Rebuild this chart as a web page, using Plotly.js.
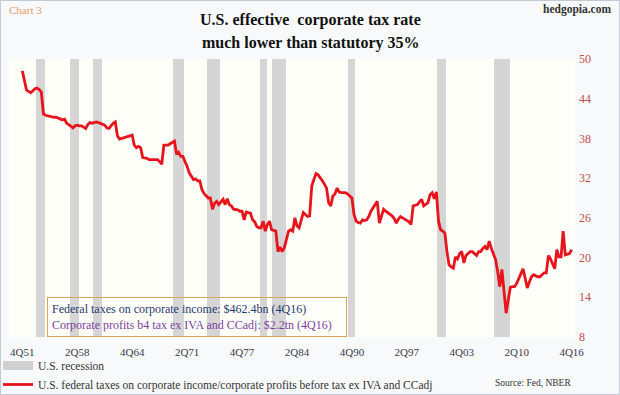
<!DOCTYPE html>
<html>
<head>
<meta charset="utf-8">
<script src="https://cdn.plot.ly/plotly-3.0.1.min.js"></script>
<style>
  html, body { margin: 0; padding: 0; background: #ffffff; }
  #chart { width: 620px; height: 395px; }
</style>
</head>
<body>
<div id="chart"></div>
<script>
// ---------------- DATA ----------------
// first quarter of the series: 4Q51, quarterly through 4Q16
const firstYear = 1951;
const firstQuarter = 4;

// U.S. federal taxes on corporate income / corporate profits before tax ex IVA and CCadj (%)
const taxRate = [
  48.2,                      // 1951 Q4
  46.8, 45.3, 45.1, 44.9,    // 1952
  45.2, 45.5, 45.6, 45.4,    // 1953
  45.0, 41.7, 41.5, 41.4,    // 1954
  41.4, 41.3, 41.2, 41.2,    // 1955
  41.1, 40.9, 40.8, 40.9,    // 1956
  40.3, 40.1, 39.8, 39.6,    // 1957
  39.9, 40.0, 39.9, 39.9,    // 1958
  39.7, 39.5, 40.1, 40.4,    // 1959
  40.3, 40.4, 40.5, 40.4,    // 1960
  40.3, 40.1, 40.0, 39.6,    // 1961
  39.5, 39.9, 40.3, 40.5,    // 1962
  38.4, 37.9, 38.0, 38.1,    // 1963
  38.3, 38.4, 38.5, 38.5,    // 1964
  37.0, 36.6, 36.8, 36.6,    // 1965
  35.1, 35.1, 35.0, 34.8,    // 1966
  34.8, 34.9, 34.9, 34.8,    // 1967
  34.5, 34.1, 37.0, 37.0,    // 1968
  37.0, 37.2, 37.4, 37.6,    // 1969
  35.6, 35.9, 35.3, 35.3,    // 1970
  34.5, 33.8, 32.8, 32.3,    // 1971
  31.8, 31.9, 31.6, 31.6,    // 1972
  30.3, 29.7, 29.3, 29.0,    // 1973
  29.0, 27.3, 28.2, 28.5,    // 1974
  28.0, 28.4, 28.8, 28.0,    // 1975
  28.9, 28.0, 27.8, 27.3,    // 1976
  27.3, 27.2, 27.0, 27.0,    // 1977
  25.7, 26.9, 26.8, 26.7,    // 1978
  25.7, 25.4, 24.7, 24.5,    // 1979
  24.5, 25.5, 24.0, 25.0,    // 1980
  25.5, 24.2, 24.1, 24.0,    // 1981
  20.9, 21.6, 20.9, 21.5,    // 1982
  22.7, 24.0, 24.2, 24.0,    // 1983
  26.0, 24.8, 24.5, 25.7,    // 1984
  26.8, 26.5, 26.2, 26.3,    // 1985
  30.8, 31.8, 32.7, 32.5,    // 1986
  32.1, 31.6, 31.1, 30.5,    // 1987
  28.3, 27.8, 29.3, 29.6,    // 1988
  30.5, 29.9, 29.8, 29.8,    // 1989
  29.8, 29.6, 29.3, 29.0,    // 1990
  26.5, 25.5, 25.3, 25.2,    // 1991
  25.7, 25.6, 25.7, 26.2,    // 1992
  27.0, 27.5, 27.8, 28.5,    // 1993
  25.2, 26.2, 27.3, 27.0,    // 1994
  26.8, 26.5, 26.3, 25.9,    // 1995
  25.2, 25.8, 26.2, 26.0,    // 1996
  25.8, 25.7, 25.4, 25.0,    // 1997
  27.8, 27.9, 28.0, 28.4,    // 1998
  28.8, 27.8, 28.0, 28.3,    // 1999
  29.5, 29.8, 28.9, 29.9,    // 2000
  25.5, 24.2, 24.0, 23.7,    // 2001
  20.9, 18.9, 18.6, 18.4,    // 2002
  20.1, 19.8, 20.6, 20.9,    // 2003
  19.2, 20.3, 20.6, 20.9,    // 2004
  20.9, 20.6, 20.3, 20.9,    // 2005
  20.9, 21.4, 21.7, 21.2,    // 2006
  22.5, 21.4, 20.5, 19.7,    // 2007
  17.9, 15.6, 18.2, 15.1,    // 2008
  11.6, 13.6, 15.5, 15.6,    // 2009
  15.6, 16.1, 16.9, 17.5,    // 2010
  18.3, 16.9, 15.4, 16.3,    // 2011
  17.1, 17.4, 17.2, 17.1,    // 2012
  17.1, 17.4, 17.7, 17.7,    // 2013
  20.3, 19.8, 19.0, 18.3,    // 2014
  21.2, 20.1, 20.1, 24.0,    // 2015
  20.4, 20.5, 20.6, 21.2     // 2016
];

// NBER recessions (first and last quarter)
const recessionStart = ['3Q53', '3Q57', '2Q60', '4Q69', '4Q73', '1Q80', '3Q81', '3Q90', '1Q01', '4Q07'];
const recessionEnd   = ['2Q54', '2Q58', '1Q61', '4Q70', '1Q75', '3Q80', '4Q82', '1Q91', '4Q01', '2Q09'];

// x-axis tick labels
const tickLabels = ['4Q51', '2Q58', '4Q64', '2Q71', '4Q77', '2Q84', '4Q90', '2Q97', '4Q03', '2Q10', '4Q16'];

// y-axis
const yMin = 8, yMax = 50, yStep = 6;

// text
const chartTag = 'Chart 3';
const siteName = 'hedgopia.com';
const titleLines = ['U.S. effective  corporate tax rate', 'much lower than statutory 35%'];
const boxLine1 = 'Federal taxes on corporate income: $462.4bn (4Q16)';
const boxLine2 = 'Corporate profits b4 tax ex IVA and CCadj: $2.2tn (4Q16)';
const legendRecession = 'U.S. recession';
const legendSeries = 'U.S. federal taxes on corporate income/corporate profits before tax ex IVA and CCadj';
const sourceText = 'Source: Fed, NBER';

// ---------------- BUILD ----------------
const quarterLabels = taxRate.map((_, i) => {
  const k = (firstQuarter - 1) + i;
  const yr = firstYear + Math.floor(k / 4);
  const q = (k % 4) + 1;
  return q + 'Q' + String(yr % 100).padStart(2, '0');
});
const idxOf = lab => quarterLabels.indexOf(lab);
const xIdx = quarterLabels.map((_, i) => i);

const recX = [], recY = [];
recessionStart.forEach((s, j) => {
  const a = idxOf(s), b = idxOf(recessionEnd[j]);
  for (let i = a; i <= b; i++) { recX.push(i); recY.push(yMax); }
});

const W = 620, H = 395, L = 9, R = 45, T = 59, B = 58;
const px = x => (x - L) / (W - L - R);
const py = y => (H - B - y) / (H - T - B);

const serif = 'Liberation Serif, Times New Roman, serif';

const traces = [
  {
    type: 'bar', x: recX, y: recY, width: 1.25,
    marker: { color: '#d5d5d5', line: { width: 0 } },
    showlegend: false, hoverinfo: 'skip'
  },
  {
    type: 'scatter', mode: 'lines', x: [null], y: [null],
    name: legendRecession, line: { color: '#d0d0d0', width: 9 }
  },
  {
    type: 'scatter', mode: 'lines', x: xIdx, y: taxRate,
    name: legendSeries, line: { color: '#e8141c', width: 2.8 }
  }
];

const layout = {
  width: W, height: H,
  margin: { l: L, r: R, t: T, b: B, autoexpand: false },
  paper_bgcolor: '#f8f9fa',
  plot_bgcolor: '#fffffa',
  font: { family: serif, color: '#404040' },
  showlegend: true,
  legend: {
    xref: 'paper', yref: 'paper', x: px(-2), y: py(351),
    xanchor: 'left', yanchor: 'top', orientation: 'v',
    bgcolor: 'rgba(0,0,0,0)', font: { family: serif, size: 11.5, color: '#333333' },
    tracegroupgap: 0, itemwidth: 30
  },
  bargap: 0,
  xaxis: {
    range: [-6.3, 261.6],
    tickmode: 'array', tickvals: tickLabels.map(idxOf), ticktext: tickLabels,
    showgrid: false, zeroline: false, showline: false, ticks: '',
    tickfont: { family: serif, size: 11, color: '#3a3a4a' },
    ticklabelstandoff: 7,
    tickangle: 0, fixedrange: true
  },
  yaxis: {
    side: 'right', range: [yMin, yMax], tick0: yMin, dtick: yStep,
    showgrid: false, zeroline: false, showline: false, ticks: '',
    tickfont: { family: serif, size: 12, color: '#c0504d' },
    ticklabelstandoff: 3,
    fixedrange: true
  },
  annotations: [
    { text: '<b>' + titleLines[0] + '</b>', xref: 'paper', yref: 'paper', x: px(310), y: py(20), xanchor: 'center', yanchor: 'middle',
      showarrow: false, font: { family: serif, size: 16, color: '#111111' } },
    { text: '<b>' + titleLines[1] + '</b>', xref: 'paper', yref: 'paper', x: px(310), y: py(43), xanchor: 'center', yanchor: 'middle',
      showarrow: false, font: { family: serif, size: 16, color: '#111111' } },
    { text: chartTag, xref: 'paper', yref: 'paper', x: px(7), y: py(10), xanchor: 'left', yanchor: 'middle',
      showarrow: false, font: { family: serif, size: 11, color: '#e3a066' } },
    { text: '<b>' + siteName + '</b>', xref: 'paper', yref: 'paper', x: px(613), y: py(10), xanchor: 'right', yanchor: 'middle',
      showarrow: false, font: { family: serif, size: 11.5, color: '#333333' } },
    { text: '<span style="color:#1f3a6e">' + boxLine1 + '</span><br><span style="color:#7b3fa1">' + boxLine2 + '</span>',
      xref: 'paper', yref: 'paper', x: px(47), y: py(297), xanchor: 'left', yanchor: 'top', align: 'left',
      width: 290, borderpad: 4, bordercolor: '#e4a35a', borderwidth: 1, showarrow: false,
      font: { family: serif, size: 12 } },
    { text: sourceText, xref: 'paper', yref: 'paper', x: px(573), y: py(383), xanchor: 'right', yanchor: 'middle',
      showarrow: false, font: { family: serif, size: 9.5, color: '#333333' } }
  ],
  shapes: [
    { type: 'rect', xref: 'paper', yref: 'paper', x0: px(0.5), x1: px(619.5), y0: py(394.5), y1: py(0.5),
      line: { color: '#c3cad6', width: 1 }, layer: 'above' }
  ]
};

Plotly.newPlot('chart', traces, layout, { displayModeBar: false, staticPlot: true });
</script>
</body>
</html>
